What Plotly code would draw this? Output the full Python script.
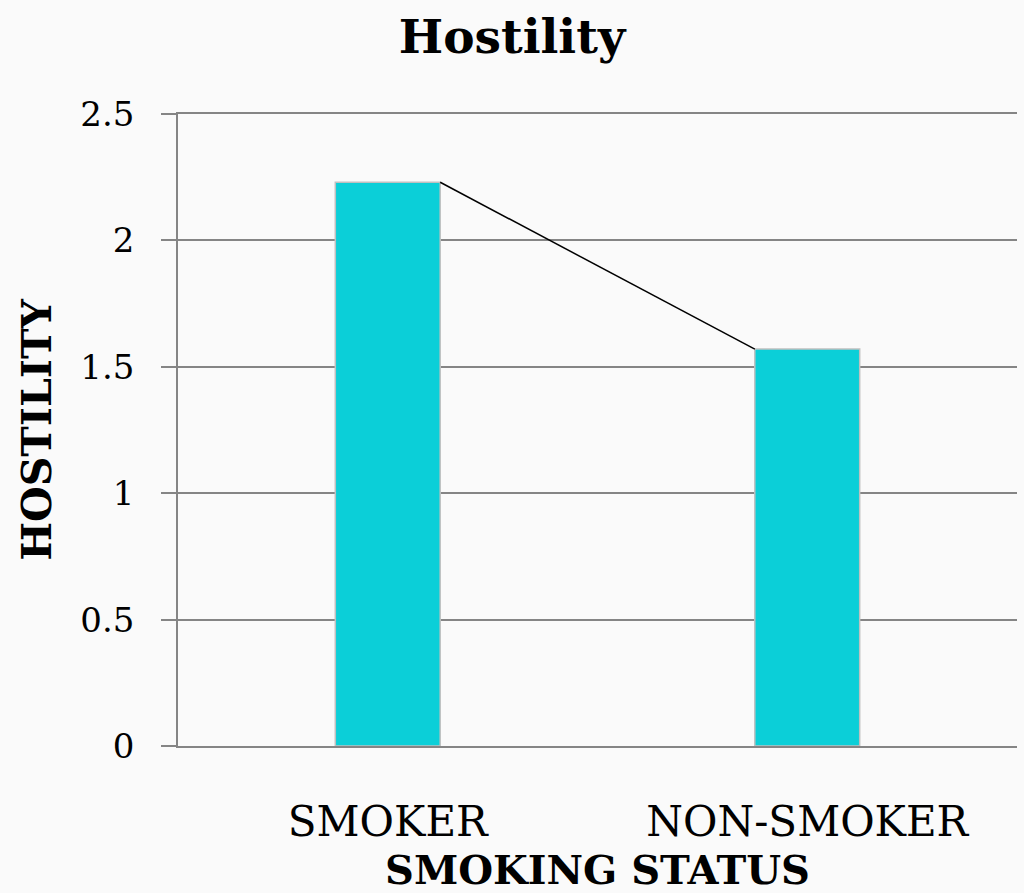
import plotly.graph_objects as go

# Mean hostility score by smoking status
categories = ["SMOKER", "NON-SMOKER"]
hostility = [2.23, 1.57]
y_ticks = [0, 0.5, 1, 1.5, 2, 2.5]
y_tick_labels = ["0", "0.5", "1", "1.5", "2", "2.5"]

BAR_WIDTH = 0.25
BAR_COLOR = "#0bcfd8"
GRID = "#858585"
SERIF = "DejaVu Serif"

x_pos = list(range(len(categories)))

fig = go.Figure()

fig.add_trace(go.Bar(
    x=x_pos,
    y=hostility,
    width=BAR_WIDTH,
    marker=dict(color=BAR_COLOR, line=dict(color="#c0c0c0", width=1.5)),
    showlegend=False,
    hoverinfo="skip",
))

# Connector from the right top corner of the first bar to the left top corner of the second
fig.add_trace(go.Scatter(
    x=[x_pos[0] + BAR_WIDTH / 2, x_pos[1] - BAR_WIDTH / 2],
    y=hostility,
    mode="lines",
    line=dict(color="black", width=1.5),
    showlegend=False,
    hoverinfo="skip",
))

fig.update_layout(
    width=1024,
    height=893,
    margin=dict(l=178, r=7, t=114, b=145),
    paper_bgcolor="#fafafa",
    plot_bgcolor="#fafafa",
    title=dict(
        text="<b>Hostility</b>",
        x=0.5, xref="container", xanchor="center",
        y=1 - 37 / 893, yref="container", yanchor="middle",
        font=dict(family=SERIF, size=47, color="black"),
    ),
    font=dict(family=SERIF, color="black"),
)

# The x axis line, mirrored, supplies the gridlines at 0 and 2.5
fig.update_xaxes(
    range=[-0.5, 1.5],
    tickvals=x_pos,
    ticktext=categories,
    tickfont=dict(family=SERIF, size=42, color="black"),
    ticks="",
    ticklabelstandoff=38,
    showgrid=False,
    zeroline=False,
    showline=True,
    mirror=True,
    linecolor=GRID,
    linewidth=1.5,
    title=dict(
        text="<b>SMOKING STATUS</b>",
        font=dict(family=SERIF, size=40, color="black"),
        standoff=12,
    ),
)

fig.update_yaxes(
    range=[0, 2.5],
    tickvals=y_ticks,
    ticktext=y_tick_labels,
    tickfont=dict(family=SERIF, size=34, color="black"),
    ticks="outside",
    ticklen=15,
    tickwidth=1.5,
    tickcolor=GRID,
    ticklabelstandoff=20,
    showgrid=True,
    gridcolor=GRID,
    gridwidth=1.5,
    zeroline=False,
    showline=True,
    linecolor=GRID,
    linewidth=1.5,
    title=dict(
        text="<b>HOSTILITY</b>",
        font=dict(family=SERIF, size=41, color="black"),
        standoff=16,
    ),
)

fig.write_html("out.html")
